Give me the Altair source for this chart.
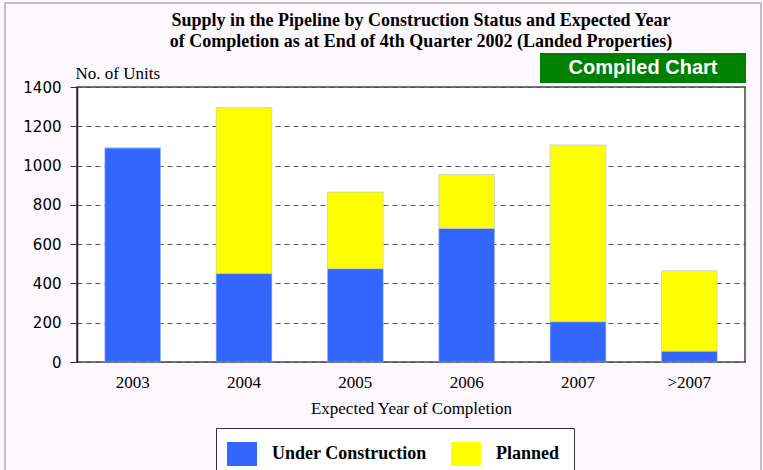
import altair as alt
import pandas as pd

years = ["2003", "2004", "2005", "2006", "2007", ">2007"]
under_construction = [1090, 450, 475, 680, 205, 55]
planned = [0, 845, 390, 275, 900, 410]
series = ["Under Construction", "Planned"]
colors = ["#3366FF", "#FFFF00"]
y_ticks = [0, 200, 400, 600, 800, 1000, 1200, 1400]

rows = []
for i, y in enumerate(years):
    rows.append({"year": y, "status": series[0], "units": under_construction[i], "ord": 0})
    rows.append({"year": y, "status": series[1], "units": planned[i], "ord": 1})
df = pd.DataFrame(rows)

SERIF = "Liberation Serif"

bars = alt.Chart(df).mark_bar(stroke="#9db4ff", strokeWidth=0.5).encode(
    x=alt.X("year:N", sort=years,
            scale=alt.Scale(paddingInner=0.5, paddingOuter=0.25),
            axis=alt.Axis(title="Expected Year of Completion", labelAngle=0,
                          labelFont=SERIF, labelFontSize=17, labelColor="black",
                          labelPadding=12, ticks=False, domain=False,
                          titleFont=SERIF, titleFontSize=17, titleFontWeight="normal",
                          titleColor="black", titlePadding=10)),
    y=alt.Y("units:Q", stack="zero",
            scale=alt.Scale(domain=[0, 1400], nice=False),
            axis=alt.Axis(values=y_ticks, format="d", title="No. of Units", titleAngle=0,
                          titleX=-2, titleY=-9, titleAlign="left",
                          titleBaseline="alphabetic", titleFont=SERIF,
                          titleFontSize=17, titleFontWeight="normal", titleColor="black",
                          labelFont="DejaVu Sans", labelFontSize=15, labelColor="black",
                          labelPadding=9, tickSize=7, tickColor="#333",
                          domainColor="#222", domainWidth=1.5,
                          grid=True, gridDash=[5, 4], gridColor="#555", gridWidth=1.2)),
    color=alt.Color("status:N", sort=series,
                    scale=alt.Scale(domain=series, range=colors),
                    legend=alt.Legend(title=None, orient="none", legendX=139, legendY=341,
                                      direction="horizontal",
                                      symbolType="M-1.25,-1L1.25,-1L1.25,1L-1.25,1Z",
                                      symbolSize=576, symbolStrokeWidth=0,
                                      labelFont=SERIF, labelFontSize=18,
                                      labelFontWeight="bold", labelColor="black",
                                      labelOffset=18, columnPadding=24,
                                      padding=14, strokeColor="#333",
                                      fillColor="white")),
    order=alt.Order("ord:Q"),
)

badge_data = alt.Data(values=[{"label": "Compiled Chart"}])
badge = alt.Chart(badge_data).mark_rect(color="#008000").encode(
    x=alt.value(463), x2=alt.value(669), y=alt.value(-34), y2=alt.value(-4))
badge_text = alt.Chart(badge_data).mark_text(
    color="white", font="Liberation Sans", fontSize=20, fontWeight="bold",
    align="center", baseline="middle").encode(
    x=alt.value(566), y=alt.value(-19), text="label:N")
frame = alt.Chart(badge_data).mark_rect(fill=None, stroke="#c0c0c0", strokeWidth=2).encode(
    x=alt.value(-72), x2=alt.value(684), y=alt.value(-84), y2=alt.value(395))

chart = alt.layer(frame, bars, badge, badge_text).properties(
    width=668, height=275,
    padding={"left": 77, "top": 87, "right": 18, "bottom": 108},
    autosize=alt.AutoSizeParams(type="none"),
    background="#FDF8FD",
    title=alt.TitleParams(
        ["Supply in the Pipeline by Construction Status and Expected Year",
         "of Completion as at End of 4th Quarter 2002 (Landed Properties)"],
        font=SERIF, fontSize=18, fontWeight="bold", color="black",
        anchor="middle", dx=10, offset=0, dy=49, lineHeight=21),
).configure_view(stroke="#444", strokeWidth=1.5, fill="white")

chart.save("out.html", embed_options={"renderer": "svg", "actions": False})
